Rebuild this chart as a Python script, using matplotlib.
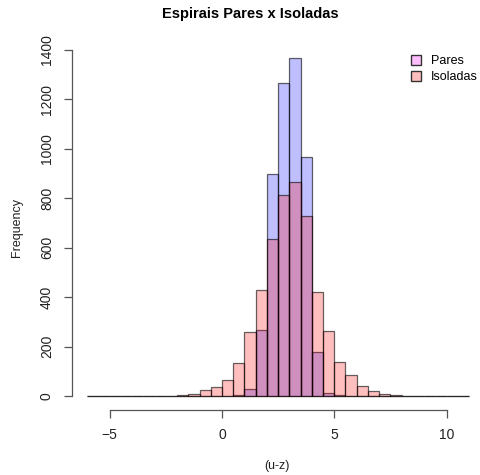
import numpy as np
import matplotlib.pyplot as plt
from matplotlib.patches import Patch

plt.rcParams['font.family'] = ['Liberation Sans', 'DejaVu Sans']

# bins of width 0.5 from -6 to 11
bin_start = -6.0
bin_width = 0.5
pares = [0, 0, 0, 0, 0, 0, 0, 0, 0, 0, 0, 0,
         1, 4, 30, 269, 900, 1265, 1366, 967, 179, 12, 3, 1,
         0, 0, 0, 0, 0, 0, 0, 0, 0, 0]
isoladas = [0, 0, 0, 0, 0, 1, 1, 2, 4, 8, 23, 38,
            66, 134, 259, 430, 636, 812, 867, 730, 420, 264, 139, 87,
            43, 21, 9, 3, 2, 1, 1, 0, 0, 1]
xticks = [-5, 0, 5, 10]
yticks = [0, 200, 400, 600, 800, 1000, 1200, 1400]

lefts = bin_start + bin_width * np.arange(len(pares))

W, H = 480, 475
fig = plt.figure(figsize=(W / 100, H / 100), dpi=100)
ax = fig.add_axes([72 / W, 1 - 410 / H, 410 / W, 365 / H])

edge = (0, 0, 0, 0.6)
ax.bar(lefts, pares, width=bin_width, align='edge', color=(0, 0, 1, 0.25),
       edgecolor=edge, linewidth=0.9)
ax.bar(lefts, isoladas, width=bin_width, align='edge', color=(1, 0, 0, 0.25),
       edgecolor=edge, linewidth=0.9)

ax.set_xlim(-6.68, 11.58)
ax.set_ylim(-56, 1420)

for s in ['top', 'right']:
    ax.spines[s].set_visible(False)
ax.spines['left'].set_bounds(0, 1400)
ax.spines['bottom'].set_bounds(-5, 10)
for s in ['left', 'bottom']:
    ax.spines[s].set_color('#555555')
    ax.spines[s].set_linewidth(0.9)

ax.set_xticks(xticks)
ax.set_yticks(yticks)
ax.set_yticklabels([str(v) for v in yticks], rotation=90, va='center')
ax.tick_params(axis='both', direction='out', length=6, width=0.9,
               color='#555555', labelsize=10, labelcolor='#222222', pad=7)

ax.set_xlabel('(u-z)', fontsize=9, color='#222222', labelpad=13)
ax.set_ylabel('Frequency', fontsize=9, color='#222222', labelpad=12)
fig.text(250 / W, 1 - 14 / H, 'Espirais Pares x Isoladas', ha='center',
         va='center', fontsize=10.5, fontweight='bold')

handles = [Patch(facecolor=(1, 0, 1, 0.25), edgecolor='#333333', label='Pares'),
           Patch(facecolor=(1, 0, 0, 0.25), edgecolor='#333333', label='Isoladas')]
fig.legend(handles=handles, loc='upper left', bbox_to_anchor=(405 / W, 1 - 49 / H),
           frameon=False, fontsize=9, handlelength=0.8, handleheight=0.8,
           handletextpad=0.8, labelspacing=0.3, borderpad=0)

fig.savefig('out.png', dpi=100)
